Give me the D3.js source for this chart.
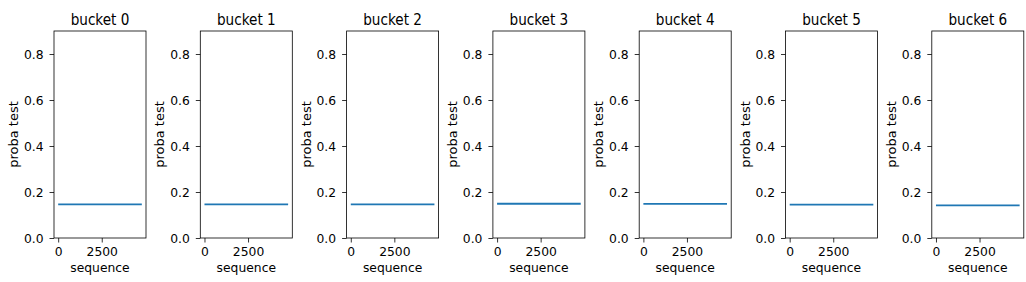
<!DOCTYPE html>
<html>
<head>
<meta charset="utf-8">
<script src="https://cdn.jsdelivr.net/npm/d3@7"></script>
<style>
  body { margin: 0; background: #fff; }
  text { font-family: "DejaVu Sans", sans-serif; fill: #000; }
</style>
</head>
<body>
<svg id="chart" width="1026" height="282"></svg>
<script>
// data
var buckets = ["bucket 0", "bucket 1", "bucket 2", "bucket 3", "bucket 4", "bucket 5", "bucket 6"];
var probaTest = [0.146, 0.146, 0.146, 0.149, 0.148, 0.145, 0.142];
var sequenceRange = [0, 4800];
var yTicks = [0, 0.2, 0.4, 0.6, 0.8];
var xTicks = [0, 2500];

// layout of the 7 little panels
var panelLeft = 54, panelStep = 146.3, panelWidth = 92;
var panelTop = 31, panelBottom = 238;

// the picture looks a bit squeezed sideways, so text gets narrowed too
var tickSquash = 0.95, titleSquash = 0.85;

var svg = d3.select("#chart");

var y = d3.scaleLinear().domain([0, 0.9]).range([panelBottom, panelTop]);
// matplotlib puts a 5% margin on both sides of the x data
var pad = (sequenceRange[1] - sequenceRange[0]) * 0.05;
var x = d3.scaleLinear()
	.domain([sequenceRange[0] - pad, sequenceRange[1] + pad])
	.range([0, panelWidth]);

function squash(sel, sx) {
	sel.each(function() {
		var t = d3.select(this);
		var tx = +t.attr("x") || 0, ty = +t.attr("y") || 0;
		var old = t.attr("transform") || "";
		t.attr("x", 0).attr("y", 0)
			.attr("transform", old + " translate(" + tx + "," + ty + ") scale(" + sx + ",1)");
	});
}

buckets.forEach(function(name, i) {
	var g = svg.append("g")
		.attr("transform", "translate(" + (panelLeft + i * panelStep) + ",0)");

	// the line
	var pts = sequenceRange.map(function(s) { return [s, probaTest[i]]; });
	g.append("path")
		.datum(pts)
		.attr("d", d3.line().x(function(d) { return x(d[0]); }).y(function(d) { return y(d[1]); }))
		.attr("fill", "none")
		.attr("stroke", "#1f77b4")
		.attr("stroke-width", 1.8);

	// axes
	var yAxis = g.append("g")
		.call(d3.axisLeft(y).tickValues(yTicks).tickFormat(d3.format(".1f")).tickSizeOuter(0).tickSize(4.5).tickPadding(6));
	var xAxis = g.append("g")
		.attr("transform", "translate(0," + panelBottom + ")")
		.call(d3.axisBottom(x).tickValues(xTicks).tickFormat(d3.format("d")).tickSizeOuter(0).tickSize(4.5).tickPadding(4.5));
	[yAxis, xAxis].forEach(function(a) {
		a.select(".domain").remove();
		a.selectAll("line").attr("stroke", "#000").attr("stroke-width", 0.8);
		a.selectAll("text").style("font-size", "13px").style("font-family", "DejaVu Sans, sans-serif").attr("fill", "#000");
		squash(a.selectAll("text"), tickSquash);
	});

	// frame
	g.append("rect")
		.attr("x", 0).attr("y", panelTop)
		.attr("width", panelWidth).attr("height", panelBottom - panelTop)
		.attr("fill", "none")
		.attr("stroke", "#000")
		.attr("stroke-width", 0.8);

	// texts
	g.append("text")
		.attr("x", panelWidth / 2).attr("y", 24.5)
		.attr("text-anchor", "middle")
		.style("font-size", "16px")
		.text(name)
		.call(squash, titleSquash);
	g.append("text")
		.attr("x", panelWidth / 2).attr("y", 272)
		.attr("text-anchor", "middle")
		.style("font-size", "13px")
		.text("sequence")
		.call(squash, tickSquash);
	g.append("text")
		.attr("transform", "translate(-36," + ((panelTop + panelBottom) / 2) + ") rotate(-90)")
		.attr("text-anchor", "middle")
		.style("font-size", "13px")
		.text("proba test");
});
</script>
</body>
</html>
